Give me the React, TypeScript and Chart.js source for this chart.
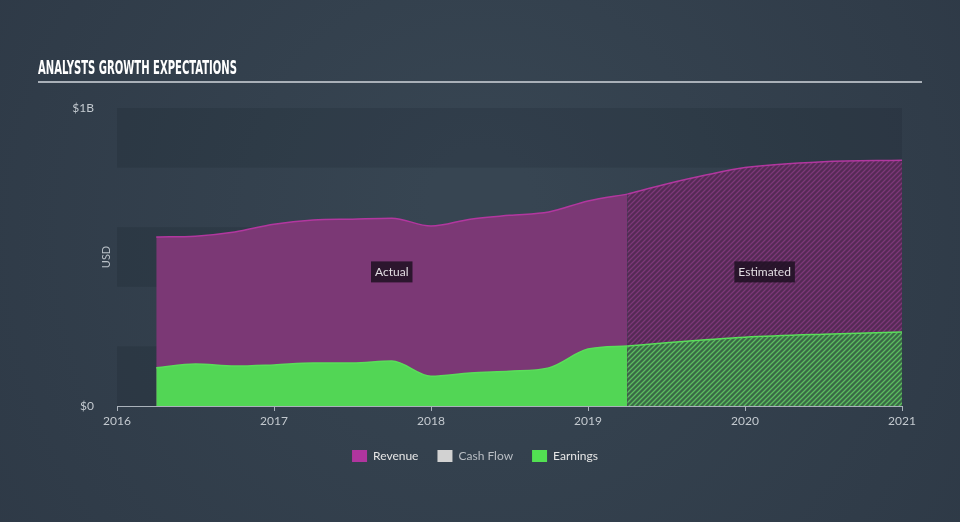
import React, { useEffect, useRef } from 'react';
import { Chart, registerables } from 'chart.js';

Chart.register(...registerables);

// ---- data (values in $ billions) ----
const xTickYears = [2016, 2017, 2018, 2019, 2020, 2021];
const yTickLabels = ['$0', '$1B'];
const legendLabels = ['Revenue', 'Cash Flow', 'Earnings'];
const regionLabels = ['Actual', 'Estimated'];

const actualX = [2016.25, 2016.5, 2016.75, 2017, 2017.25, 2017.5, 2017.75, 2018, 2018.25, 2018.5, 2018.75, 2019, 2019.25];
const revenueActual = [0.567, 0.57, 0.584, 0.61, 0.624, 0.627, 0.63, 0.604, 0.627, 0.64, 0.651, 0.688, 0.711];
const earningsActual = [0.128, 0.141, 0.134, 0.138, 0.144, 0.144, 0.151, 0.1, 0.111, 0.117, 0.128, 0.191, 0.201];

const estimateX = [2019.25, 2019.5, 2019.75, 2020, 2020.5, 2021];
const revenueEstimate = [0.711, 0.745, 0.775, 0.8, 0.82, 0.825];
const earningsEstimate = [0.201, 0.212, 0.222, 0.231, 0.241, 0.248];

const FONT = 'Lato, "Open Sans", sans-serif';

function makeHatch(base: string, line: string, size = 5): CanvasPattern {
  const c = document.createElement('canvas');
  c.width = size;
  c.height = size;
  const g = c.getContext('2d')!;
  g.fillStyle = base;
  g.fillRect(0, 0, size, size);
  g.strokeStyle = line;
  g.lineWidth = 1.3;
  g.beginPath();
  g.moveTo(-1, size + 1);
  g.lineTo(size + 1, -1);
  g.moveTo(-1, 1);
  g.lineTo(1, -1);
  g.moveTo(size - 1, size + 1);
  g.lineTo(size + 1, size - 1);
  g.stroke();
  return g.createPattern(c, 'repeat')!;
}

const pts = (xs: number[], ys: number[]) => xs.map((x, i) => ({ x, y: ys[i] }));

const decorPlugin = {
  id: 'decor',
  beforeDraw(chart: any) {
    const { ctx, chartArea, scales } = chart;
    const W = chart.width;
    const H = chart.height;
    ctx.save();
    const grad = ctx.createRadialGradient(480, 200, 50, 480, 260, 650);
    grad.addColorStop(0, '#374552');
    grad.addColorStop(1, '#2d3845');
    ctx.fillStyle = grad;
    ctx.fillRect(0, 0, W, H);

    // title
    ctx.font = 'bold 20px "Liberation Sans Narrow", "DejaVu Sans Condensed", sans-serif';
    const title = 'ANALYSTS GROWTH EXPECTATIONS';
    const tw = ctx.measureText(title).width;
    const sx = 199 / tw;
    ctx.save();
    ctx.translate(38, 74);
    ctx.scale(sx, 1);
    ctx.fillStyle = '#ffffff';
    ctx.textBaseline = 'alphabetic';
    ctx.textAlign = 'left';
    ctx.fillText(title, 0, 0);
    ctx.restore();

    ctx.fillStyle = '#a9b0b8';
    ctx.fillRect(38, 81, 884, 2);

    // bands
    const y = scales.y;
    ctx.fillStyle = 'rgba(10,18,28,0.12)';
    for (const [a, b] of [[0, 0.2], [0.4, 0.6], [0.8, 1.0]]) {
      const top = y.getPixelForValue(b);
      const bot = y.getPixelForValue(a);
      ctx.fillRect(chartArea.left, top, chartArea.right - chartArea.left, bot - top);
    }

    // USD
    ctx.save();
    ctx.translate(106, y.getPixelForValue(0.5));
    ctx.rotate(-Math.PI / 2);
    ctx.font = '11px ' + FONT;
    ctx.fillStyle = '#b9c0c7';
    ctx.textAlign = 'center';
    ctx.textBaseline = 'middle';
    ctx.fillText('USD', 0, 0);
    ctx.restore();
    ctx.restore();
  },
  afterDatasetsDraw(chart: any) {
    const { ctx, scales } = chart;
    const centers = [
      (actualX[0] + actualX[actualX.length - 1]) / 2,
      (estimateX[0] + estimateX[estimateX.length - 1]) / 2,
    ];
    ctx.save();
    ctx.font = '12px ' + FONT;
    ctx.textAlign = 'center';
    ctx.textBaseline = 'middle';
    regionLabels.forEach((t, i) => {
      const cx = scales.x.getPixelForValue(centers[i]);
      const cy = scales.y.getPixelForValue(0.45);
      const w = ctx.measureText(t).width + 8;
      ctx.fillStyle = 'rgba(30,16,34,0.85)';
      ctx.fillRect(cx - w / 2, cy - 10.5, w, 21);
      ctx.fillStyle = '#e2dde2';
      ctx.fillText(t, cx, cy + 0.5);
    });
    ctx.restore();
  },
  afterDraw(chart: any) {
    const { ctx } = chart;
    const colors = ['#b0359e', '#d2d2d2', '#52e052'];
    const textColors = ['#e6e6e6', '#b9bec4', '#e6e6e6'];
    ctx.save();
    ctx.font = '12px ' + FONT;
    ctx.textBaseline = 'middle';
    ctx.textAlign = 'left';
    const box = 15, gapText = 6, gapItem = 19;
    const widths = legendLabels.map((l) => box + gapText + ctx.measureText(l).width);
    const total = widths.reduce((a, b) => a + b, 0) + gapItem * (widths.length - 1);
    let x = 475 - total / 2;
    const cy = 456;
    legendLabels.forEach((l, i) => {
      ctx.fillStyle = colors[i];
      ctx.fillRect(x, cy - 6, box, 12);
      ctx.fillStyle = textColors[i];
      ctx.fillText(l, x + box + gapText, cy);
      x += widths[i] + gapItem;
    });
    ctx.restore();
  },
};

export default function App() {
  const ref = useRef<HTMLCanvasElement | null>(null);
  useEffect(() => {
    const canvas = ref.current!;
    const purpleHatch = makeHatch('#552a55', '#7c3878', 5);
    const greenHatch = makeHatch('#3a6a46', '#5cbc60', 5);
    const chart = new Chart(canvas, {
      type: 'line',
      data: {
        datasets: [
          {
            label: 'Earnings',
            data: pts(actualX, earningsActual),
            borderColor: '#5ade5a',
            backgroundColor: '#52d655',
            fill: 'origin',
          },
          {
            label: 'Earnings (est.)',
            data: pts(estimateX, earningsEstimate),
            borderColor: '#5ade5a',
            backgroundColor: greenHatch,
            fill: 'origin',
          },
          {
            label: 'Revenue',
            data: pts(actualX, revenueActual),
            borderColor: '#b2379f',
            backgroundColor: '#7b3875',
            fill: 'origin',
          },
          {
            label: 'Revenue (est.)',
            data: pts(estimateX, revenueEstimate),
            borderColor: '#b2379f',
            backgroundColor: purpleHatch,
            fill: 'origin',
          },
        ],
      },
      options: {
        animation: false,
        responsive: false,
        maintainAspectRatio: false,
        layout: { padding: { left: 0, right: 58, top: 108, bottom: 86 } },
        plugins: { legend: { display: false }, tooltip: { enabled: false } },
        elements: {
          point: { radius: 0 },
          line: { cubicInterpolationMode: 'monotone', borderWidth: 1.5 },
        },
        scales: {
          x: {
            type: 'linear',
            min: xTickYears[0],
            max: xTickYears[xTickYears.length - 1],
            ticks: {
              stepSize: 1,
              autoSkip: false,
              maxRotation: 0,
              padding: 3,
              color: '#c3c9cf',
              font: { family: FONT, size: 12 },
              callback: (v: any) => (xTickYears.includes(Number(v)) ? String(v) : ''),
            },
            grid: { drawOnChartArea: false, drawTicks: true, tickLength: 5, color: '#aab2bb' },
            border: { color: '#aab2bb', width: 1 },
            afterFit: (s: any) => {
              s.height = 30;
            },
          },
          y: {
            min: 0,
            max: 1,
            ticks: {
              stepSize: 0.2,
              padding: 15,
              color: '#c3c9cf',
              font: { family: FONT, size: 12 },
              callback: (v: any) => {
                const n = Number(v);
                if (Math.abs(n) < 1e-9) return yTickLabels[0];
                if (Math.abs(n - 1) < 1e-9) return yTickLabels[1];
                return '';
              },
            },
            grid: { display: false },
            border: { display: false },
            afterFit: (s: any) => {
              s.width = 117;
            },
          },
        },
      },
      plugins: [decorPlugin],
    } as any);
    return () => chart.destroy();
  }, []);
  return (
    <div style={{ position: 'absolute', left: 0, top: 0, width: 960, height: 522 }}>
      <canvas ref={ref} width={960} height={522} style={{ display: 'block' }} />
    </div>
  );
}
